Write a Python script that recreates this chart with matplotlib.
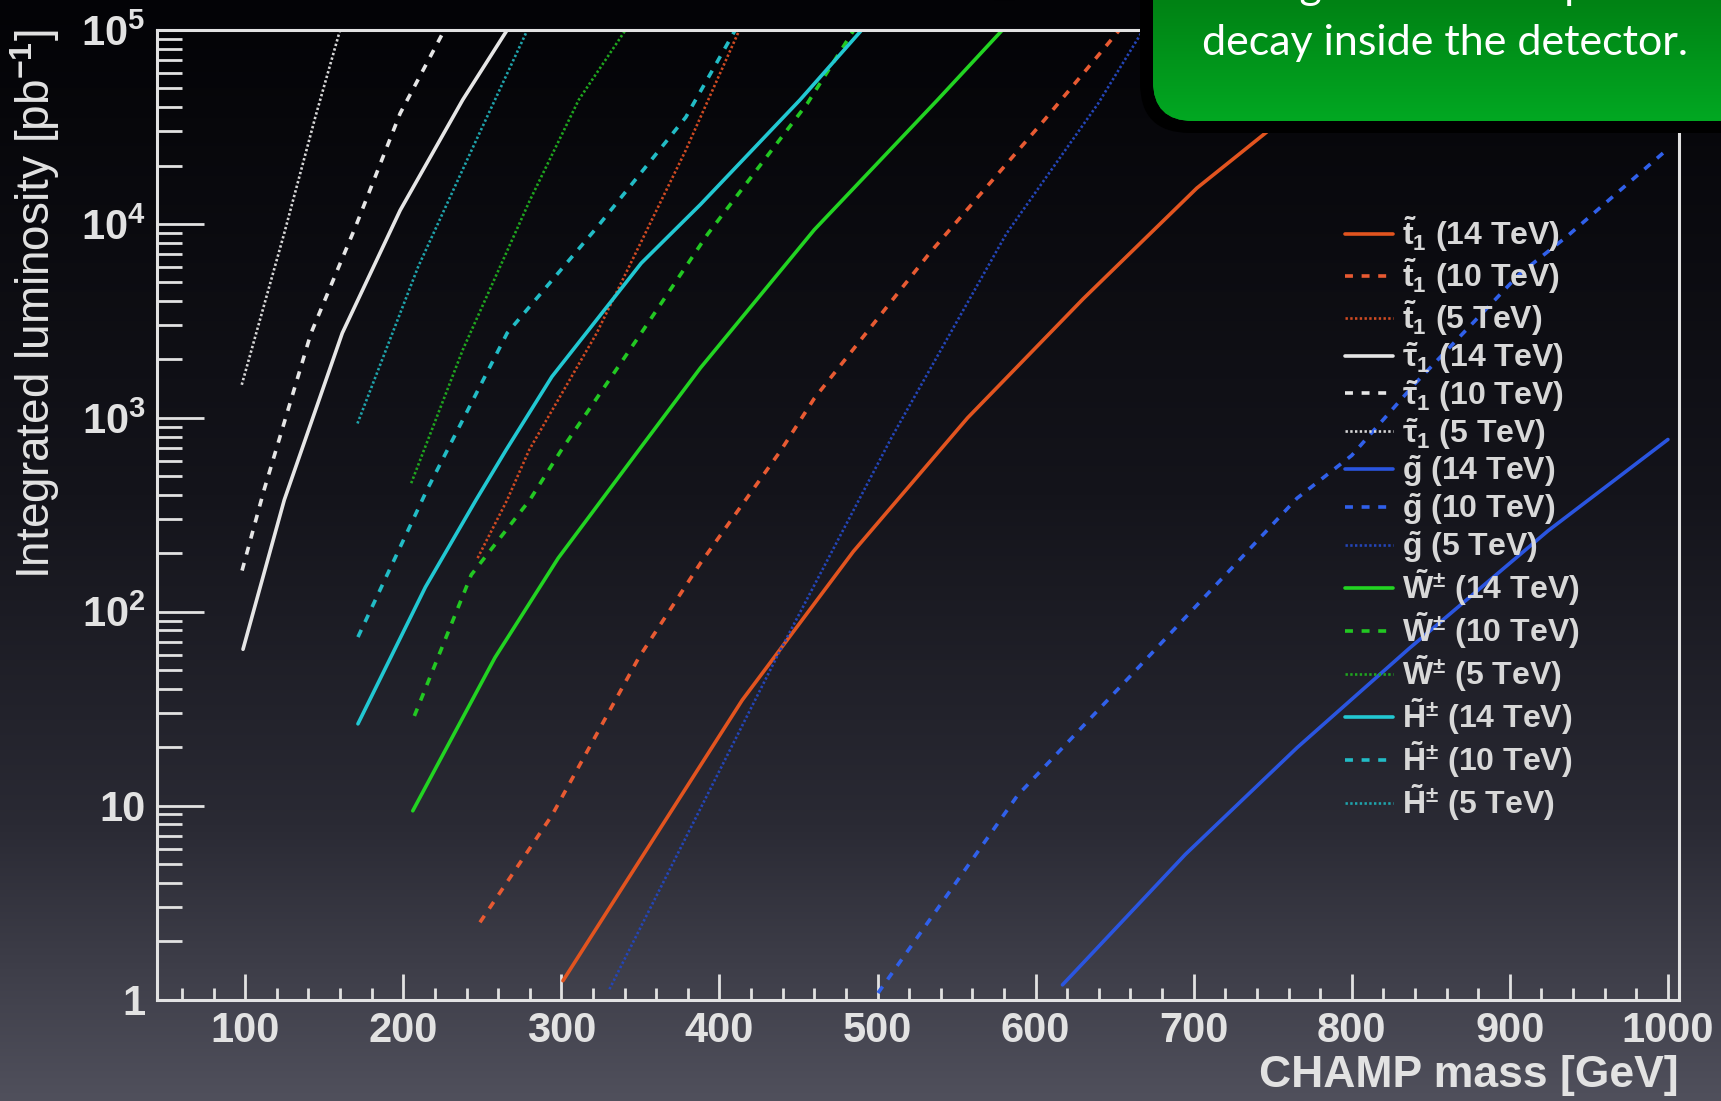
import numpy as np
import matplotlib
matplotlib.use("Agg")
import matplotlib.pyplot as plt
from matplotlib.patches import FancyBboxPatch
from matplotlib.ticker import MultipleLocator, LogLocator, FixedLocator, FixedFormatter, NullFormatter

plt.rcParams['font.family'] = ['Liberation Sans', 'DejaVu Sans']
plt.rcParams['mathtext.fontset'] = 'custom'
plt.rcParams['mathtext.rm'] = 'Liberation Sans:bold'
plt.rcParams['mathtext.it'] = 'Liberation Sans:bold'
plt.rcParams['mathtext.bf'] = 'Liberation Sans:bold'

# --- data (mass in GeV, integrated luminosity in pb^-1)
stop14_m = [301, 356, 414.4, 484.6, 557, 630, 702, 744, 825]
stop14_l = [1.25, 6.3, 35, 204, 1000, 4100, 15300, 28800, 1e5]
stop10_m = [248.5, 294, 349, 388, 439, 460, 533, 606, 653]
stop10_l = [2.5, 8.9, 58, 178, 682, 1260, 7080, 34700, 1e5]
stop5_m = [247, 265.7, 279.6, 322.3, 378.7, 412.6]
stop5_l = [189, 377, 682, 2730, 24000, 1e5]

stau14_m = [98.6, 124.7, 161.4, 198, 237.6, 265.7]
stau14_l = [64, 377, 2735, 11750, 43650, 1e5]
stau10_m = [98, 112, 141.6, 169.8, 198, 226]
stau10_l = [163, 427, 2730, 9680, 37150, 1e5]
stau5_m = [97.8, 124.6, 144.4, 160]
stau5_l = [1480, 8900, 35700, 1e5]

gluino14_m = [617, 694.7, 765.4, 836, 924.3, 1000]
gluino14_l = [1.19, 5.6, 19.9, 64.3, 262, 773]
gluino10_m = [500.3, 588.6, 659.3, 730, 765.4, 800, 840, 906, 936, 999]
gluino10_l = [1.08, 11.3, 46, 189, 385, 640, 1500, 5500, 8600, 24000]
gluino5_m = [330.4, 437, 509, 581.5, 639.5, 668]
gluino5_l = [1.13, 60, 795, 8900, 41700, 1e5]

wino14_m = [206, 258, 298, 349, 388, 460, 538, 579]
wino14_l = [9.4, 58, 189, 682, 1810, 9330, 43650, 1e5]
wino10_m = [207, 243, 280, 300, 350.5, 392.6, 455.5, 485]
wino10_l = [29, 155, 377, 682, 2735, 8870, 41700, 1e5]
wino5_m = [205, 237.6, 280, 311, 340.6]
wino5_l = [460, 2240, 13200, 43650, 1e5]

higgs14_m = [171.3, 214, 246, 265, 294, 350.5, 388, 451, 490]
higgs14_l = [26.4, 134, 377, 682, 1630, 6270, 12600, 43650, 1e5]
higgs10_m = [171.3, 215, 265.7, 322.3, 378.7, 410]
higgs10_l = [74, 425, 2735, 9550, 35500, 1e5]
higgs5_m = [171, 209.4, 243.2, 278.5]
higgs5_l = [935, 6010, 24000, 1e5]

labels = [r'$\tilde{t}_1$ (14 TeV)', r'$\tilde{t}_1$ (10 TeV)', r'$\tilde{t}_1$ (5 TeV)',
          r'$\tilde{\tau}_1$ (14 TeV)', r'$\tilde{\tau}_1$ (10 TeV)', r'$\tilde{\tau}_1$ (5 TeV)',
          r'$\tilde{g}$ (14 TeV)', r'$\tilde{g}$ (10 TeV)', r'$\tilde{g}$ (5 TeV)',
          r'$\tilde{W}^{\pm}$ (14 TeV)', r'$\tilde{W}^{\pm}$ (10 TeV)', r'$\tilde{W}^{\pm}$ (5 TeV)',
          r'$\tilde{H}^{\pm}$ (14 TeV)', r'$\tilde{H}^{\pm}$ (10 TeV)', r'$\tilde{H}^{\pm}$ (5 TeV)']

xticks = [100, 200, 300, 400, 500, 600, 700, 800, 900, 1000]
yticks = [1, 10, 100, 1e3, 1e4, 1e5]
ytick_labels = ['1', '10', r'$10^{2}$', r'$10^{3}$', r'$10^{4}$', r'$10^{5}$']

series = [
    (stop14_m, stop14_l, '#e2541f', 'solid'),
    (stop10_m, stop10_l, '#e85a32', 'dash'),
    (stop5_m, stop5_l, '#d04a22', 'dot'),
    (stau14_m, stau14_l, '#e6e6e6', 'solid'),
    (stau10_m, stau10_l, '#e6e6e6', 'dash'),
    (stau5_m, stau5_l, '#d8d8d8', 'dot'),
    (gluino14_m, gluino14_l, '#2a55e0', 'solid'),
    (gluino10_m, gluino10_l, '#3060ea', 'dash'),
    (gluino5_m, gluino5_l, '#2445b8', 'dot'),
    (wino14_m, wino14_l, '#22d422', 'solid'),
    (wino10_m, wino10_l, '#22c822', 'dash'),
    (wino5_m, wino5_l, '#1fa61f', 'dot'),
    (higgs14_m, higgs14_l, '#22c8d2', 'solid'),
    (higgs10_m, higgs10_l, '#22bcc6', 'dash'),
    (higgs5_m, higgs5_l, '#1fa4ac', 'dot'),
]

W, H = 1721, 1101
fig = plt.figure(figsize=(W / 100, H / 100), dpi=100)

# background gradient
bg = fig.add_axes([0, 0, 1, 1], zorder=0)
t = np.linspace(0, 1, 400)
stops = [0.0, 0.45, 0.75, 1.0]
cols = np.array([[3, 3, 6], [20, 20, 27], [42, 42, 52], [80, 80, 92]]) / 255.0
grad = np.stack([np.interp(t, stops, cols[:, k]) for k in range(3)], axis=1)
bg.imshow(grad[:, None, :], aspect='auto', extent=[0, 1, 0, 1], origin='upper')
bg.axis('off')

# main plot
x0, x1, y0, y1 = 156.7, 1679.0, 30.0, 999.5
ax = fig.add_axes([x0 / W, 1 - y1 / H, (x1 - x0) / W, (y1 - y0) / H], zorder=1)
ax.patch.set_alpha(0)

for (m, l, c, st), lab in zip(series, labels):
    if st == 'solid':
        ax.plot(m, l, color=c, lw=2.6, label=lab, solid_capstyle='round')
    elif st == 'dash':
        ax.plot(m, l, color=c, lw=2.6, dashes=(2.2, 2.4), label=lab)
    else:
        ax.plot(m, l, color=c, lw=1.9, dashes=(0.9, 0.9), label=lab)

ax.set_yscale('log')
ax.set_xlim(44, 1007)
ax.set_ylim(1, 1e5)

fg = '#e2e2e2'
for s in ax.spines.values():
    s.set_color(fg)
    s.set_linewidth(2.2)

ax.xaxis.set_major_locator(FixedLocator(xticks))
ax.xaxis.set_minor_locator(MultipleLocator(20))
ax.yaxis.set_major_locator(FixedLocator(yticks))
ax.yaxis.set_major_formatter(FixedFormatter(ytick_labels))
ax.yaxis.set_minor_locator(LogLocator(base=10, subs=np.arange(2, 10)))
ax.yaxis.set_minor_formatter(NullFormatter())
ax.tick_params(axis='x', which='major', direction='in', length=19, width=2, color=fg,
               labelsize=30, labelcolor=fg, pad=8)
ax.tick_params(axis='x', which='minor', direction='in', length=9, width=2, color=fg)
ax.tick_params(axis='y', which='major', direction='in', length=34, width=2, color=fg,
               labelsize=30, labelcolor=fg, pad=8)
ax.tick_params(axis='y', which='minor', direction='in', length=18, width=2, color=fg)
for lb in ax.get_xticklabels() + ax.get_yticklabels():
    lb.set_fontweight('bold')

ax.set_xlabel('CHAMP mass [GeV]', loc='right', fontsize=32, fontweight='bold', color=fg)
ax.xaxis.set_label_coords(1.0, -0.057)
ax.xaxis.label.set_va('top')
ax.set_ylabel(r'Integrated luminosity [pb$^{-1}$]', loc='top', fontsize=33, color=fg)
ax.yaxis.set_label_coords(-0.0625, 1.0)

leg = ax.legend(loc='upper left', bbox_to_anchor=(1345 / W, 1 - 214 / H),
                bbox_transform=fig.transFigure, frameon=False,
                prop={'family': 'Liberation Sans', 'weight': 'bold', 'size': 23},
                labelcolor='#d8d8d8', handlelength=1.5, handletextpad=0.3,
                labelspacing=0.06, borderpad=0, borderaxespad=0)

# green note box in the top right corner
ov = fig.add_axes([0, 0, 1, 1], zorder=5)
ov.set_xlim(0, W)
ov.set_ylim(H, 0)
ov.axis('off')
ov.add_patch(FancyBboxPatch((1140, -300), 900, 300 + 133,
                            boxstyle='round,pad=0,rounding_size=50', fc='black', ec='none'))
green = FancyBboxPatch((1153, -300), 900, 300 + 121,
                       boxstyle='round,pad=0,rounding_size=40', fc='#039a1e', ec='none')
ov.add_patch(green)
gg = np.stack([np.linspace(v0, v1, 100) for v0, v1 in [(0, 2), (130, 168), (20, 34)]], axis=1) / 255.0
im = ov.imshow(gg[:, None, :], aspect='auto', extent=[1153, W, 121, 0], zorder=3)
im.set_clip_path(green)
ov.set_xlim(0, W)
ov.set_ylim(H, 0)
ov.text(1225, -1, 'A high fraction of particles', color='white', fontsize=31,
        family='Lato', ha='left', va='baseline', zorder=4)
ov.text(1445, 55, 'decay inside the detector.', color='white', fontsize=31,
        family='Lato', ha='center', va='baseline', zorder=4)

fig.savefig('out.png', dpi=100)
